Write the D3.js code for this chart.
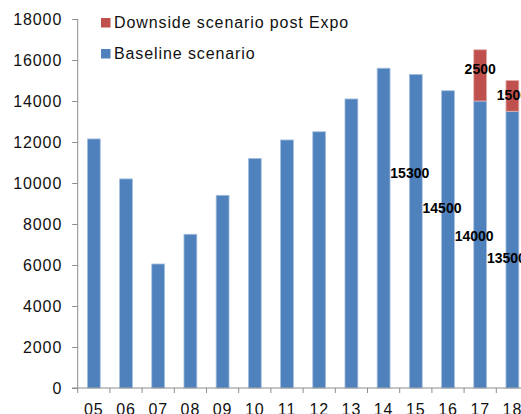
<!DOCTYPE html>
<html>
<head>
<meta charset="utf-8">
<script src="https://cdn.jsdelivr.net/npm/d3@7"></script>
<style>
  html, body { margin: 0; padding: 0; background: #fff; overflow: hidden; }
  svg { display: block; font-family: "Liberation Sans", Arial, sans-serif; }
</style>
</head>
<body>
<div id="chart"></div>
<script>
const years = ["05", "06", "07", "08", "09", "10", "11", "12", "13", "14", "15", "16", "17", "18"];
const baseline = [12150, 10200, 6050, 7500, 9400, 11200, 12100, 12500, 14100, 15600, 15300, 14500, 14000, 13500];
const downside = [0, 0, 0, 0, 0, 0, 0, 0, 0, 0, 0, 0, 2500, 1500];
const yTicks = [0, 2000, 4000, 6000, 8000, 10000, 12000, 14000, 16000, 18000];

// data labels as they sit in the picture (label text, year, value where the label sits)
const baseLabelYears = ["15", "16", "17", "18"];
const baseLabelText = ["15300", "14500", "14000", "13500"];
const baseLabelAt = [10500, 8800, 7400, 6350];
const downLabelYears = ["17", "18"];
const downLabelText = ["2500", "1500"];
const downLabelAt = [15550, 14300];

const legendItems = ["Downside scenario post Expo", "Baseline scenario"];

const WIDTH = 521;
const HEIGHT = 414;
const BLUE = "#4f81bd";
const RED = "#c0504d";
const AXIS = "#8c8c8c";

const svg = d3.select("#chart").append("svg")
  .attr("width", WIDTH)
  .attr("height", HEIGHT);

const x = d3.scaleBand()
  .domain(years)
  .range([77.7, 77.7 + 14 * 32.2])
  .paddingInner(0.6)
  .paddingOuter(0.3);

const y = d3.scaleLinear()
  .domain([0, 18000])
  .range([388, 19]);

const series = years.map((yr, i) => ({ year: yr, base: baseline[i], down: downside[i] }));

// bars
svg.append("g").selectAll("rect")
  .data(series)
  .join("rect")
  .attr("x", d => x(d.year))
  .attr("y", d => y(d.base))
  .attr("width", x.bandwidth())
  .attr("height", d => y(0) - y(d.base))
  .attr("fill", BLUE)
  .attr("stroke", "#a9c1e0")
  .attr("stroke-width", 0.8);

svg.append("g").selectAll("rect")
  .data(series.filter(d => d.down > 0))
  .join("rect")
  .attr("x", d => x(d.year))
  .attr("y", d => y(d.base + d.down))
  .attr("width", x.bandwidth())
  .attr("height", d => y(d.base) - y(d.base + d.down))
  .attr("fill", RED)
  .attr("stroke", "#e3b3b2")
  .attr("stroke-width", 0.8);

// y axis
const yAxis = svg.append("g")
  .attr("transform", "translate(77.7,0)")
  .call(d3.axisLeft(y).tickValues(yTicks).tickSize(5.5).tickPadding(10).tickFormat(d3.format("d")));
yAxis.select(".domain").attr("stroke", AXIS).attr("d", `M0,${y(18000)}V${y(0)}`);
yAxis.selectAll(".tick line").attr("stroke", AXIS);
yAxis.selectAll(".tick text")
  .attr("fill", "#111")
  .style("font-size", "16px")
  .style("letter-spacing", "0.9px");

// x axis
const boundaries = years.map(yr => x(yr) - x.step() * x.paddingOuter());
const xAxis = svg.append("g");
xAxis.append("line")
  .attr("x1", 72)
  .attr("x2", WIDTH)
  .attr("y1", y(0))
  .attr("y2", y(0))
  .attr("stroke", AXIS);
xAxis.selectAll(".xt")
  .data(boundaries)
  .join("line")
  .attr("class", "xt")
  .attr("x1", d => d)
  .attr("x2", d => d)
  .attr("y1", y(0))
  .attr("y2", y(0) + 5)
  .attr("stroke", AXIS);
xAxis.selectAll(".xl")
  .data(years)
  .join("text")
  .attr("class", "xl")
  .attr("x", d => x(d) + x.bandwidth() / 2)
  .attr("y", 415)
  .attr("text-anchor", "middle")
  .attr("fill", "#111")
  .style("font-size", "16px")
  .style("letter-spacing", "0.9px")
  .text(d => d);

// data labels
const labelGroup = svg.append("g")
  .attr("font-weight", "bold")
  .attr("font-size", "14px")
  .attr("fill", "#000")
  .attr("text-anchor", "middle");

labelGroup.selectAll(".bl")
  .data(baseLabelText)
  .join("text")
  .attr("class", "bl")
  .attr("x", (d, i) => x(baseLabelYears[i]) + x.bandwidth() / 2 - 6)
  .attr("y", (d, i) => y(baseLabelAt[i]))
  .attr("dy", "0.36em")
  .text(d => d);

labelGroup.selectAll(".dl")
  .data(downLabelText)
  .join("text")
  .attr("class", "dl")
  .attr("x", (d, i) => x(downLabelYears[i]) + x.bandwidth() / 2)
  .attr("y", (d, i) => y(downLabelAt[i]))
  .attr("dy", "0.36em")
  .text(d => d);

// legend
const legend = svg.append("g").attr("transform", "translate(101,18)");
const legendColors = [RED, BLUE];
legendItems.forEach((name, i) => {
  const row = legend.append("g").attr("transform", `translate(0,${i * 31})`);
  row.append("rect")
    .attr("width", 9.5)
    .attr("height", 9.5)
    .attr("fill", legendColors[i]);
  row.append("text")
    .attr("x", 13)
    .attr("y", 10.3)
    .attr("fill", "#111")
    .style("font-size", "16px")
    .style("letter-spacing", "0.9px")
    .text(name);
});
</script>
</body>
</html>
